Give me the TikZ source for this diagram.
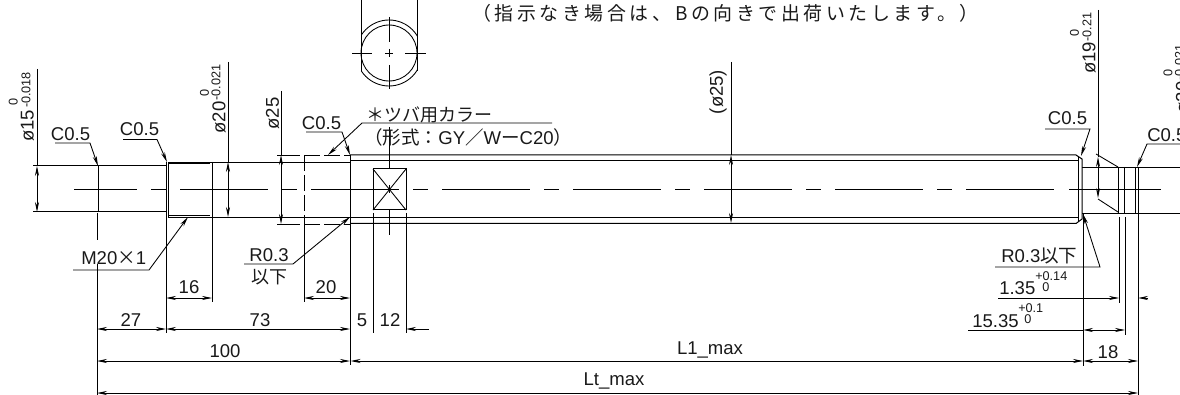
\documentclass[tikz,border=0pt]{standalone}
\usepackage{fontspec}
\usepackage{tikz}
\usetikzlibrary{arrows.meta}
\setmainfont{Liberation Sans}
\newfontfamily\jp{Noto Sans CJK JP}
\newfontfamily\jpwide[LetterSpace=19]{Noto Sans CJK JP}
\newcommand{\dimfont}{\fontsize{13.9}{16}\selectfont}
\newcommand{\tolfont}{\fontsize{9.5}{11}\selectfont}
\tikzset{
  every node/.style={inner sep=0pt, font=\dimfont, text=black!90},
  tol/.style={font=\tolfont},
  part/.style={line width=0.75pt},
  thin line/.style={line width=0.65pt},
  dimline/.style={line width=0.65pt, <->},
  leader/.style={line width=0.65pt, ->},
  center line/.style={line width=0.65pt, dash pattern=on 66pt off 10.5pt on 11.25pt off 10.5pt, dash phase=18.75pt},
  collar/.style={line width=0.7pt, dash pattern=on 12pt off 3pt},
  >={Stealth[length=7.5pt,width=3pt]}
}

\begin{document}
\begin{tikzpicture}[x=0.75pt,y=-0.75pt]
   \useasboundingbox (0,0) rectangle (1180,395);
   \clip (0,0) rectangle (1180,395);

   % end view
   \begin{scope}
    \clip (361,0) rectangle (417,95);
    \draw[thin line] (389,53) circle [radius=33];
   \end{scope}
   \draw[thin line] (389,53) circle [radius=28];
   \draw[thin line] (361,0) -- (361,71);
   \draw[thin line] (417,0) -- (417,71);
   \draw[thin line] (352,53) -- (372,53) (385,53) -- (393,53) (405,53) -- (426,53);
   \draw[thin line] (389,17) -- (389,42) (389,49) -- (389,57) (389,65) -- (389,89);
   \node(NOTE)[anchor=west, font=\fontsize{14.2}{16}\jpwide] at (472,13) {（指示なき場合は、Bの向きで出荷いたします。）};

   % shaft outline
   \draw[part] (33,166) -- (166,166);
   \draw[part] (33,212) -- (166,212);
   \draw[part] (98,166) -- (98,212);
   \draw[part] (166,162) -- (166,217);
   \draw[part] (168,162) -- (168,217);
   \draw[thin line] (168,162) -- (350,162);
   \draw[thin line] (168,217) -- (350,217);
   \draw[thin line] (168,163.5) -- (210,163.5);
   \draw[thin line] (168,215.5) -- (210,215.5);
   \draw[thin line] (212,162) -- (212,217);
   \draw[part] (350,155) -- (350,224);
   \draw[part] (350,155) -- (1076,155) -- (1082,159) -- (1082,219) -- (1076,223.5) -- (350,223.5);
   \draw[part] (350,161) -- (1078,161);
   \draw[part] (350,218) -- (1078,218);
   \draw[part] (1078,157) -- (1078,222);
   \draw[thin line] (1082,167) -- (1180,167);
   \draw[thin line] (1082,213) -- (1180,213);
   \draw[thin line] (1118,167) -- (1118,213);
   \draw[thin line] (1124,167) -- (1124,213);
   \draw[thin line] (1135,167) -- (1135,213);
   \draw[thin line] (1138,167) -- (1138,213);
   \draw[thin line] (1096,154) -- (1118,167);
   \draw[thin line] (1098,199) -- (1118,212);

   % collar
   \draw[thin line] (277,155) -- (300,155);
   \draw[thin line] (277,224) -- (300,224);
   \draw[collar] (304,155) -- (350,155);
   \draw[collar] (304,224) -- (350,224);
   \draw[collar] (304,155) -- (304,224);

   % square section
   \draw[part] (373,169) rectangle (406,210);
   \draw[thin line] (373,169) -- (406,210);
   \draw[thin line] (406,169) -- (373,210);
   \draw[thin line] (389,127) -- (389,169) (389,185) -- (389,193) (389,210) -- (389,235);

   % center lines
   \draw[center line] (74,189) -- (1055,189);
   \draw[thin line] (1069,189) -- (1161,189);

   % extension lines
   \draw[thin line] (97,213) -- (97,240) (97,264) -- (97,395);
   \draw[thin line] (166,217) -- (166,333);
   \draw[thin line] (212,217) -- (212,302);
   \draw[thin line] (304,224) -- (304,302);
   \draw[thin line] (350.5,224) -- (350.5,365);
   \draw[thin line] (373.5,213) -- (373.5,333);
   \draw[thin line] (406,213) -- (406,333);
   \draw[thin line] (1083,213) -- (1083,366);
   \draw[thin line] (1119,217) -- (1119,303);
   \draw[thin line] (1125,217) -- (1125,335);
   \draw[thin line] (1138,213) -- (1138,395);

   % diameters
   \coordinate (A15a) at (37,166);
   \coordinate (A15b) at (37,212);
   \draw[thin line] (37,69) -- (A15a);
   \draw[dimline] (A15a) -- (A15b);
   \node(N15)[rotate=90] at (27.5,126) {ø15};
   \node(N15t)[rotate=90, tol] at (26,90) {-0.018};
   \node(N15z)[rotate=90, tol] at (13.3,102) {0};

   \coordinate (A20a) at (228,162);
   \coordinate (A20b) at (228,217);
   \draw[thin line] (228,62) -- (A20a);
   \draw[dimline] (A20a) -- (A20b);
   \node(N20)[rotate=90] at (219,117.5) {ø20};
   \node(N20t)[rotate=90, tol] at (216,82.5) {-0.021};
   \node(N20z)[rotate=90, tol] at (204.5,93) {0};

   \coordinate (A25a) at (281,155);
   \coordinate (A25b) at (281,224);
   \draw[thin line] (281,91) -- (A25a);
   \draw[dimline] (A25a) -- (A25b);
   \node(N25)[rotate=90] at (272.5,113.5) {ø25};

   \coordinate (B25a) at (731,155);
   \coordinate (B25b) at (731,223);
   \draw[thin line] (731,62) -- (B25a);
   \draw[dimline] (B25a) -- (B25b);
   \node(NB25)[rotate=90] at (718,92) {(ø25)};

   \coordinate (A19a) at (1098,157);
   \coordinate (A19b) at (1098,198);
   \draw[thin line] (1098,10) -- (A19a);
   \draw[dimline] (A19a) -- (A19b);
   \node(N19)[rotate=90] at (1089,58) {ø19};
   \node(N19t)[rotate=90, tol] at (1087,27) {-0.21};
   \node(N19z)[rotate=90, tol] at (1074.5,33) {0};

   \node(N20r)[rotate=90] at (1182.5,97.5) {ø20};
   \node(N20rt)[rotate=90, tol] at (1179.5,62.5) {-0.021};
   \node(N20rz)[rotate=90, tol] at (1168,73) {0};

   % chamfer leaders
   \node(NC1) at (70.5,134) {C0.5};
   \coordinate (C1a) at (55,143);
   \coordinate (C1b) at (90,143);
   \coordinate (C1t) at (98,166);
   \draw[leader] (C1a) -- (C1b) -- (C1t);

   \node(NC2) at (139.5,129) {C0.5};
   \coordinate (C2a) at (123,139.5);
   \coordinate (C2b) at (157,139.5);
   \coordinate (C2t) at (167,162);
   \draw[leader] (C2a) -- (C2b) -- (C2t);

   \node(NC3) at (321.5,123) {C0.5};
   \coordinate (C3a) at (306,132);
   \coordinate (C3b) at (342,132);
   \coordinate (C3t) at (350,155);
   \draw[leader] (C3a) -- (C3b) -- (C3t);

   \node(NC4) at (1067.5,118) {C0.5};
   \coordinate (C4a) at (1045,129);
   \coordinate (C4b) at (1090,129);
   \coordinate (C4t) at (1081,156);
   \draw[leader] (C4a) -- (C4b) -- (C4t);

   \node(NC5)[anchor=west] at (1147,135) {C0.5};
   \coordinate (C5a) at (1180,144);
   \coordinate (C5b) at (1147,144);
   \coordinate (C5t) at (1137,167);
   \draw[leader] (C5a) -- (C5b) -- (C5t);

   % collar note
   \node(NK1)[anchor=west, font=\fontsize{13.5}{16}\jp] at (366,115) {＊ツバ用カラー};
   \node(NK2)[anchor=west] at (364,137) {{\jp （形式：}GY{\jp ／}W{\jp ー}C20{\jp ）}};
   \coordinate (K1a) at (552,123);
   \coordinate (K1b) at (362,123);
   \coordinate (K1t) at (328,155);
   \draw[leader] (K1a) -- (K1b) -- (K1t);

   % other leaders
   \node(NM)[anchor=west] at (81,258) {M20{\jp ×}1};
   \coordinate (M1a) at (73,270);
   \coordinate (M1b) at (149,270);
   \coordinate (M1t) at (188,217);
   \draw[leader] (M1a) -- (M1b) -- (M1t);

   \node(NR1) at (269,255) {R0.3};
   \node(NR1b)[font=\fontsize{13.5}{16}\jp] at (269,277) {以下};
   \coordinate (R1a) at (244,264);
   \coordinate (R1b) at (293,264);
   \coordinate (R1t) at (350,217);
   \draw[leader] (R1a) -- (R1b) -- (R1t);

   \node(NR2)[anchor=west] at (1001,256) {R0.3{\jp 以下}};
   \coordinate (R2a) at (995,267);
   \coordinate (R2b) at (1100,267);
   \coordinate (R2t) at (1083,214);
   \draw[leader] (R2a) -- (R2b) -- (R2t);

   % length dimensions
   \coordinate (L16a) at (166,298);
   \coordinate (L16b) at (212,298);
   \draw[dimline] (L16a) -- (L16b);
   \node(N16) at (189,287) {16};

   \coordinate (L20a) at (304,298);
   \coordinate (L20b) at (350,298);
   \draw[dimline] (L20a) -- (L20b);
   \node(NL20) at (326,287) {20};

   \coordinate (L27a) at (97,329);
   \coordinate (L27b) at (166,329);
   \draw[dimline] (L27a) -- (L27b);
   \node(N27) at (131,320) {27};

   \coordinate (L73a) at (166,329);
   \coordinate (L73b) at (350,329);
   \draw[dimline] (L73a) -- (L73b);
   \node(N73) at (260,320) {73};

   \node(N5) at (362,320) {5};
   \node(N12) at (390,320) {12};
   \coordinate (L12a) at (429,329);
   \coordinate (L12b) at (406,329);
   \draw[leader] (L12a) -- (L12b);

   \coordinate (L100a) at (97,361);
   \coordinate (L100b) at (350,361);
   \draw[dimline] (L100a) -- (L100b);
   \node(N100) at (225,351) {100};

   \coordinate (L1a) at (350.5,361);
   \coordinate (L1b) at (1083,361);
   \draw[dimline] (L1a) -- (L1b);
   \node(NL1) at (710,350) {L1\_max};

   \coordinate (L18a) at (1083,361);
   \coordinate (L18b) at (1138,361);
   \draw[dimline] (L18a) -- (L18b);
   \node(N18) at (1108,352) {18};

   \coordinate (Lta) at (97,393);
   \coordinate (Ltb) at (1138,393);
   \draw[dimline] (Lta) -- (Ltb);
   \node(NLt) at (614,381) {Lt\_max};

   % right end tolerances
   \coordinate (G1a) at (998,298);
   \coordinate (G1b) at (1119,298);
   \coordinate (G1c) at (1148,298);
   \coordinate (G1d) at (1138,298);
   \draw[leader] (G1a) -- (G1b);
   \draw[leader] (G1c) -- (G1d);
   \node(NG1)[anchor=west] at (999,288) {1.35};
   \node(NG1t)[anchor=west, tol] at (1035,276) {+0.14};
   \node(NG1z)[tol] at (1046,287) {0};

   \coordinate (G2a) at (968,330);
   \coordinate (G2b) at (1083,330);
   \coordinate (G2c) at (1125,330);
   \draw[thin line] (G2a) -- (G2b);
   \draw[dimline] (G2b) -- (G2c);
   \node(NG2)[anchor=west] at (972,321) {15.35};
   \node(NG2t)[anchor=west, tol] at (1018,308) {+0.1};
   \node(NG2z)[tol] at (1028,319) {0};
\end{tikzpicture}
\end{document}
